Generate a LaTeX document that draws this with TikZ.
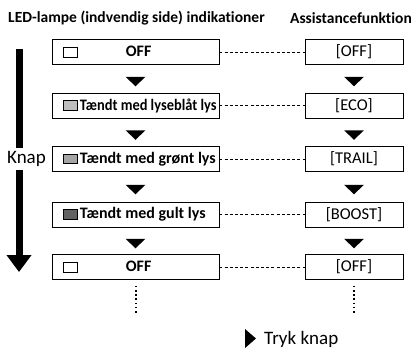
\documentclass[tikz,border=0pt]{standalone}
\usepackage{fontspec}
\setmainfont{Carlito}[Ligatures=NoCommon]
\usetikzlibrary{arrows.meta,positioning,calc}
\definecolor{lampblue}  {HTML}{BDBDBD}
\definecolor{lampgreen} {HTML}{A4A4A4}
\definecolor{lampyellow}{HTML}{626262}
\newcommand{\headfont}{\fontsize{15.5}{18}\selectfont\bfseries}
\newcommand{\statefont}{\fontsize{16}{19}\selectfont\bfseries}
\newcommand{\modefont}{\fontsize{16.5}{19}\selectfont}
\newcommand{\labelfont}{\fontsize{19}{22}\selectfont}
\newcommand{\lampbox}[1]{{\setlength{\fboxsep}{0pt}\setlength{\fboxrule}{0.7pt}%
  \fcolorbox{black}{#1}{\makebox[13.5pt]{\rule{0pt}{9pt}}}}}

\begin{document}
\begin{tikzpicture}[x=1pt, y=-1pt, font=\labelfont,
  lbox/.style={draw, line width=0.7pt, minimum width=167pt, minimum height=25pt, inner sep=0pt, font=\statefont},
  rbox/.style={draw, line width=0.7pt, minimum width=98pt, minimum height=25pt, inner sep=0pt, font=\modefont},
  link/.style={dash pattern=on 3pt off 2.2pt, line width=0.5pt},
  dots/.style={line width=2pt, dash pattern=on 1.6pt off 2.6pt}]
  \useasboundingbox (0,0) rectangle (417,349);
  % column heads
  \node[font=\headfont, anchor=west, inner sep=0pt] (headled) at (8,18) {LED-lampe (indvendig side) indikationer};
  \node[font=\headfont, anchor=east, inner sep=0pt] (headassist) at (412,18) {Assistancefunktion};
  % lamp states and assist modes
  \foreach \i/\y/\c/\gap/\txt/\mode in {
     1/52/white/48pt/{OFF}/{[OFF]},
     2/105.5/lampblue/2pt/{\scalebox{0.9}[1]{Tændt med lyseblåt lys}}/{[ECO]},
     3/159/lampgreen/2pt/{Tændt med grønt lys}/{[TRAIL]},
     4/214.5/lampyellow/2pt/{Tændt med gult lys}/{[BOOST]},
     5/267/white/48pt/{OFF}/{[OFF]}} {
    \node[lbox] (L\i) at (135.5,\y) {\makebox[145pt][l]{\lampbox{\c}\hspace{\gap}\txt}};
    \node[rbox] (R\i) at (354,\y) {\mode};
    \draw[link] (L\i) -- (R\i);
  }
  % step triangles
  \foreach \a/\b in {1/2,2/3,3/4,4/5} {
    \fill ($(L\a.south)!.5!(L\b.north)+(-10,-2)$) -- ++(20,0) -- ++(-10,9.5) -- cycle;
    \fill ($(R\a.south)!.5!(R\b.north)+(-10,-2)$) -- ++(20,0) -- ++(-10,9.5) -- cycle;
  }
  % continuation
  \draw[dots] ([yshift=-6pt]L5.south) -- ([yshift=-34pt]L5.south);
  \draw[dots] ([yshift=-6pt]R5.south) -- ([yshift=-34pt]R5.south);
  % press arrow
  \coordinate (presstop) at (19,49);
  \coordinate (pressend) at (19,272);
  \draw[line width=7pt, -{Triangle[width=24pt,length=17pt]}] (presstop) -- (pressend);
  \node[fill=white, inner xsep=1pt, inner ysep=3pt] (knap) at (26.5,159) {Knap};
  % legend
  \fill (245,329) -- (256,338.5) -- (245,348) -- cycle;
  \node[anchor=west, inner sep=0pt] (tryk) at (264,339) {Tryk knap};
\end{tikzpicture}
\end{document}
